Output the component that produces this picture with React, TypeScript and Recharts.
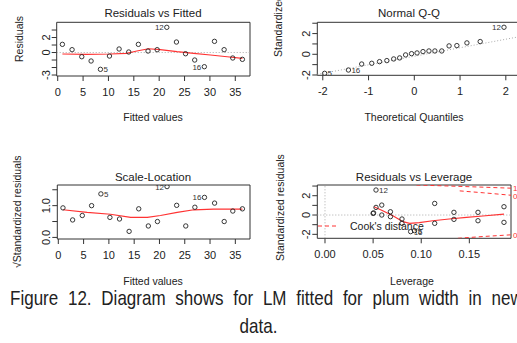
import { ScatterChart, Scatter, XAxis, YAxis, ReferenceLine, ReferenceArea } from "recharts";

const FONT = '"Liberation Sans", Arial, sans-serif';

// Residuals vs Fitted / Scale-Location (same fitted values)
const fitted = [0.92, 2.83, 4.74, 6.58, 8.42, 10.2, 12.1, 14.0, 15.9, 17.8, 19.6, 21.5, 23.4, 25.2, 27.0, 28.9, 30.9, 32.8, 34.5, 36.4];
const residuals = [1.09, 0.38, -0.56, -1.13, -2.24, -0.47, 0.47, 0.07, 1.09, 0.2, 0.38, 3.36, 1.4, -0.16, -1.0, -1.89, 1.49, 0.38, -0.73, -0.91];
const obsIds = ["", "", "", "", "5", "", "", "", "", "", "", "12", "", "", "", "16", "", "", "", ""];
const residSmoothX = [0.92, 5.7, 10.3, 13.6, 15.6, 17.9, 20.2, 23.5, 26.8, 30.1, 33.4, 36.4];
const residSmoothY = [-0.2, -0.24, -0.2, -0.11, 0.2, 0.5, 0.38, 0.11, -0.11, -0.33, -0.56, -0.78];

const sqrtStdResid = [0.93, 0.55, 0.69, 1.0, 1.37, 0.63, 0.58, 0.19, 0.9, 0.36, 0.5, 1.6, 1.01, 0.36, 0.95, 1.26, 1.08, 0.5, 0.83, 0.9];
const slSmoothX = [0.92, 5.7, 10.3, 14.3, 17.6, 20.2, 23.5, 26.8, 30.7, 36.4];
const slSmoothY = [0.87, 0.79, 0.73, 0.63, 0.63, 0.69, 0.79, 0.87, 0.89, 0.89];

// Normal Q-Q
const qqTheo = [-1.96, -1.44, -1.15, -0.93, -0.76, -0.6, -0.45, -0.32, -0.19, -0.06, 0.06, 0.19, 0.32, 0.45, 0.6, 0.76, 0.93, 1.15, 1.44, 1.96];
const qqSample = [-1.84, -1.52, -0.94, -0.87, -0.71, -0.61, -0.45, -0.35, -0.06, 0.06, 0.13, 0.26, 0.32, 0.32, 0.32, 0.81, 0.84, 1.1, 1.23, 2.61];
const qqIds = ["5", "16", "", "", "", "", "", "", "", "", "", "", "", "", "", "", "", "", "", "12"];
const qqLineX = [-2.12, 2.31];
const qqLineY = [-1.94, 1.71];

// Residuals vs Leverage
const leverage = [0.05, 0.0505, 0.053, 0.053, 0.059, 0.059, 0.068, 0.068, 0.08, 0.08, 0.089, 0.093, 0.114, 0.114, 0.134, 0.134, 0.159, 0.159, 0.186, 0.186];
const levResid = [0.17, 0.22, 2.59, 0.79, 1.03, 0.0, 0.34, -0.17, -0.41, -0.86, -1.72, -1.62, 1.2, -0.86, 0.28, -0.45, 0.28, -0.59, 0.86, -0.76];
const levIds = ["", "", "12", "", "", "", "", "", "", "", "16", "5", "", "", "", "", "", "", "", ""];
const levSmoothX = [0.051, 0.06, 0.071, 0.081, 0.088, 0.098, 0.112, 0.129, 0.147, 0.164, 0.186];
const levSmoothY = [0.86, 0.45, -0.1, -0.69, -0.86, -0.79, -0.59, -0.41, -0.24, -0.1, 0.1];
const cookOneX = [0.095, 0.13, 0.16, 0.1933];
const cookOneY = [3.11, 3.0, 2.9, 2.78];
const cookHalfX = [0.14, 0.165, 0.1933];
const cookHalfY = [2.5, 2.3, 2.05];
const cookLowX = [0.138, 0.165, 0.1933];
const cookLowY = [-2.41, -2.22, -2.05];

const zip = (xs: number[], ys: number[], ids?: string[]) =>
  xs.map((x, i) => ({ x, y: ys[i], id: ids ? ids[i] : "" }));

const mean = (a: number[]) => a.reduce((s, v) => s + v, 0) / a.length;

const pointShape = (xs: number[]) => {
  const m = mean(xs);
  return (p: any) => {
    const { cx, cy, payload } = p;
    const right = payload.x < m;
    return (
      <g>
        <circle cx={cx} cy={cy} r={2.2} fill="none" stroke="#222" strokeWidth={0.9} />
        {payload.id ? (
          <text x={right ? cx + 3 : cx - 3} y={cy + 3} fontSize={8} fill="#333" fontFamily={FONT} textAnchor={right ? "start" : "end"}>
            {payload.id}
          </text>
        ) : null}
      </g>
    );
  };
};

const noShape = () => <g />;

function Panel({ left, top, width, height, box, xDomain, yDomain, xTicks, yTicks, xFmt, yFmt, yShow, children }: any) {
  const yAxisW = 30;
  const xAxisH = 30;
  const margin = {
    left: box[0] - left - yAxisW,
    right: left + width - box[1],
    top: box[2] - top,
    bottom: top + height - box[3] - xAxisH,
  };
  const xTick = (p: any) => (
    <text x={p.x} y={p.y + 9} fontSize={11} fill="#222" fontFamily={FONT} textAnchor="middle" dominantBaseline="central">
      {xFmt(p.payload.value)}
    </text>
  );
  const yTick = (p: any) => {
    const v = p.payload.value;
    if (!yShow.some((s: number) => Math.abs(s - v) < 1e-9)) return <g />;
    const cx = p.x - 4;
    return (
      <text x={cx} y={p.y} fontSize={11} fill="#222" fontFamily={FONT} textAnchor="middle" dominantBaseline="central" transform={`rotate(-90, ${cx}, ${p.y})`}>
        {yFmt(v)}
      </text>
    );
  };
  return (
    <div style={{ position: "absolute", left, top }}>
      <ScatterChart width={width} height={height} margin={margin}>
        <XAxis type="number" dataKey="x" domain={xDomain} ticks={xTicks} interval={0} allowDataOverflow axisLine={false} tickSize={5} height={xAxisH} tickLine={{ stroke: "#333" }} tick={xTick} />
        <YAxis type="number" dataKey="y" domain={yDomain} ticks={yTicks} interval={0} allowDataOverflow axisLine={false} tickSize={5} width={yAxisW} tickLine={{ stroke: "#333" }} tick={yTick} />
        {children}
        <ReferenceArea x1={xDomain[0]} x2={xDomain[1]} y1={yDomain[0]} y2={yDomain[1]} fill="none" stroke="#333" strokeWidth={1} ifOverflow="visible" />
      </ScatterChart>
    </div>
  );
}

const intFmt = (v: number) => String(v);
const dot = { stroke: "#aaa", strokeDasharray: "1 2" };
const redLine = { stroke: "#f33", strokeWidth: 1.2 };
const redDash = { stroke: "#f33", strokeWidth: 1, strokeDasharray: "4 3" };

export default function App() {
  const fitDomain = [-0.2, 37.9];
  const fitTicks = [0, 5, 10, 15, 20, 25, 30, 35];
  return (
    <div style={{ position: "fixed", left: 0, top: 0, width: 517, height: 343, overflow: "hidden", background: "#fff", fontFamily: FONT }}>
      <Panel left={0} top={0} width={258} height={130} box={[56.7, 250, 22.3, 76]} xDomain={fitDomain} yDomain={[-3.13, 4.03]}
        xTicks={fitTicks} yTicks={[-3, -2, -1, 0, 1, 2, 3]} xFmt={intFmt} yFmt={intFmt} yShow={[2, 0, -3]}>
        <ReferenceLine y={0} {...dot} />
        <Scatter data={zip(residSmoothX, residSmoothY)} line={redLine} shape={noShape} isAnimationActive={false} />
        <Scatter data={zip(fitted, residuals, obsIds)} shape={pointShape(fitted)} isAnimationActive={false} />
      </Panel>

      <Panel left={258} top={0} width={270} height={130} box={[317.3, 520, 22.3, 75.3]} xDomain={[-2.12, 2.31]} yDomain={[-2.03, 3.09]}
        xTicks={[-2, -1, 0, 1, 2]} yTicks={[-2, -1, 0, 1, 2, 3]} xFmt={intFmt} yFmt={intFmt} yShow={[2, 0, -2]}>
        <Scatter data={zip(qqLineX, qqLineY)} line={dot} shape={noShape} isAnimationActive={false} />
        <Scatter data={zip(qqTheo, qqSample, qqIds)} shape={pointShape(qqTheo)} isAnimationActive={false} />
      </Panel>

      <Panel left={0} top={150} width={258} height={130} box={[57.3, 250, 185, 239]} xDomain={fitDomain} yDomain={[-0.05, 1.65]}
        xTicks={fitTicks} yTicks={[0, 0.5, 1, 1.5]} xFmt={intFmt} yFmt={(v: number) => v.toFixed(1)} yShow={[0, 1]}>
        <Scatter data={zip(slSmoothX, slSmoothY)} line={redLine} shape={noShape} isAnimationActive={false} />
        <Scatter data={zip(fitted, sqrtStdResid, obsIds)} shape={pointShape(fitted)} isAnimationActive={false} />
      </Panel>

      <Panel left={258} top={150} width={262} height={130} box={[317.3, 511, 185, 238.3]} xDomain={[-0.008, 0.1933]} yDomain={[-2.41, 3.11]}
        xTicks={[0, 0.05, 0.1, 0.15]} yTicks={[-2, -1, 0, 1, 2, 3]} xFmt={(v: number) => v.toFixed(2)} yFmt={intFmt} yShow={[2, 0, -2]}>
        <ReferenceLine y={0} {...dot} />
        <ReferenceLine x={0} {...dot} />
        <Scatter data={zip(cookOneX, cookOneY)} line={redDash} shape={noShape} isAnimationActive={false} />
        <Scatter data={zip(cookHalfX, cookHalfY)} line={redDash} shape={noShape} isAnimationActive={false} />
        <Scatter data={zip(cookLowX, cookLowY)} line={redDash} shape={noShape} isAnimationActive={false} />
        <Scatter data={zip(levSmoothX, levSmoothY)} line={redLine} shape={noShape} isAnimationActive={false} />
        <Scatter data={zip(leverage, levResid, levIds)} shape={pointShape(leverage)} isAnimationActive={false} />
      </Panel>

      <svg width={517} height={343} style={{ position: "absolute", left: 0, top: 0, pointerEvents: "none" }} fontFamily={FONT} fill="#222">
        <text x={153} y={17} fontSize={11.5} textAnchor="middle">Residuals vs Fitted</text>
        <text x={409} y={17} fontSize={11.5} textAnchor="middle">Normal Q-Q</text>
        <text x={153} y={181} fontSize={11.5} textAnchor="middle">Scale-Location</text>
        <text x={414} y={181} fontSize={11.5} textAnchor="middle">Residuals vs Leverage</text>

        <text x={153} y={121} fontSize={10.5} textAnchor="middle">Fitted values</text>
        <text x={414} y={121} fontSize={10.5} textAnchor="middle">Theoretical Quantiles</text>
        <text x={153} y={285} fontSize={10.5} textAnchor="middle">Fitted values</text>
        <text x={412} y={285} fontSize={10.5} textAnchor="middle">Leverage</text>

        <text x={19} y={62} fontSize={10.5} dominantBaseline="central" transform="rotate(-90, 19, 62)">Residuals</text>
        <text x={278} y={57} fontSize={10.5} dominantBaseline="central" transform="rotate(-90, 278, 57)">Standardized residuals</text>
        <text x={17} y={268} fontSize={10.5} dominantBaseline="central" transform="rotate(-90, 17, 268)">√Standardized residuals</text>
        <text x={280} y={261} fontSize={10.5} dominantBaseline="central" transform="rotate(-90, 280, 261)">Standardized residuals</text>

        <line x1={318} x2={338} y1={226} y2={226} stroke="#f33" strokeDasharray="4 3" />
        <text x={350} y={230} fontSize={10.5}>Cook's distance</text>
        <text x={513} y={191} fontSize={8} fill="#f33">1</text>
        <text x={513} y={199} fontSize={8} fill="#f33">0.5</text>
        <text x={513} y={238} fontSize={8} fill="#f33">0.5</text>
      </svg>

      <div style={{ position: "absolute", left: 10, top: 286, width: 633, fontSize: 21, lineHeight: "24px", textAlign: "justify", textAlignLast: "justify", color: "#222", transform: "scaleX(0.81)", transformOrigin: "0 0" }}>
        Figure 12. Diagram shows for LM fitted for plum width in new
      </div>
      <div style={{ position: "absolute", left: 0, top: 314, width: 517, fontSize: 21, lineHeight: "24px", textAlign: "center", color: "#222", transform: "scaleX(0.81)", transformOrigin: "50% 0" }}>
        data.
      </div>
    </div>
  );
}
